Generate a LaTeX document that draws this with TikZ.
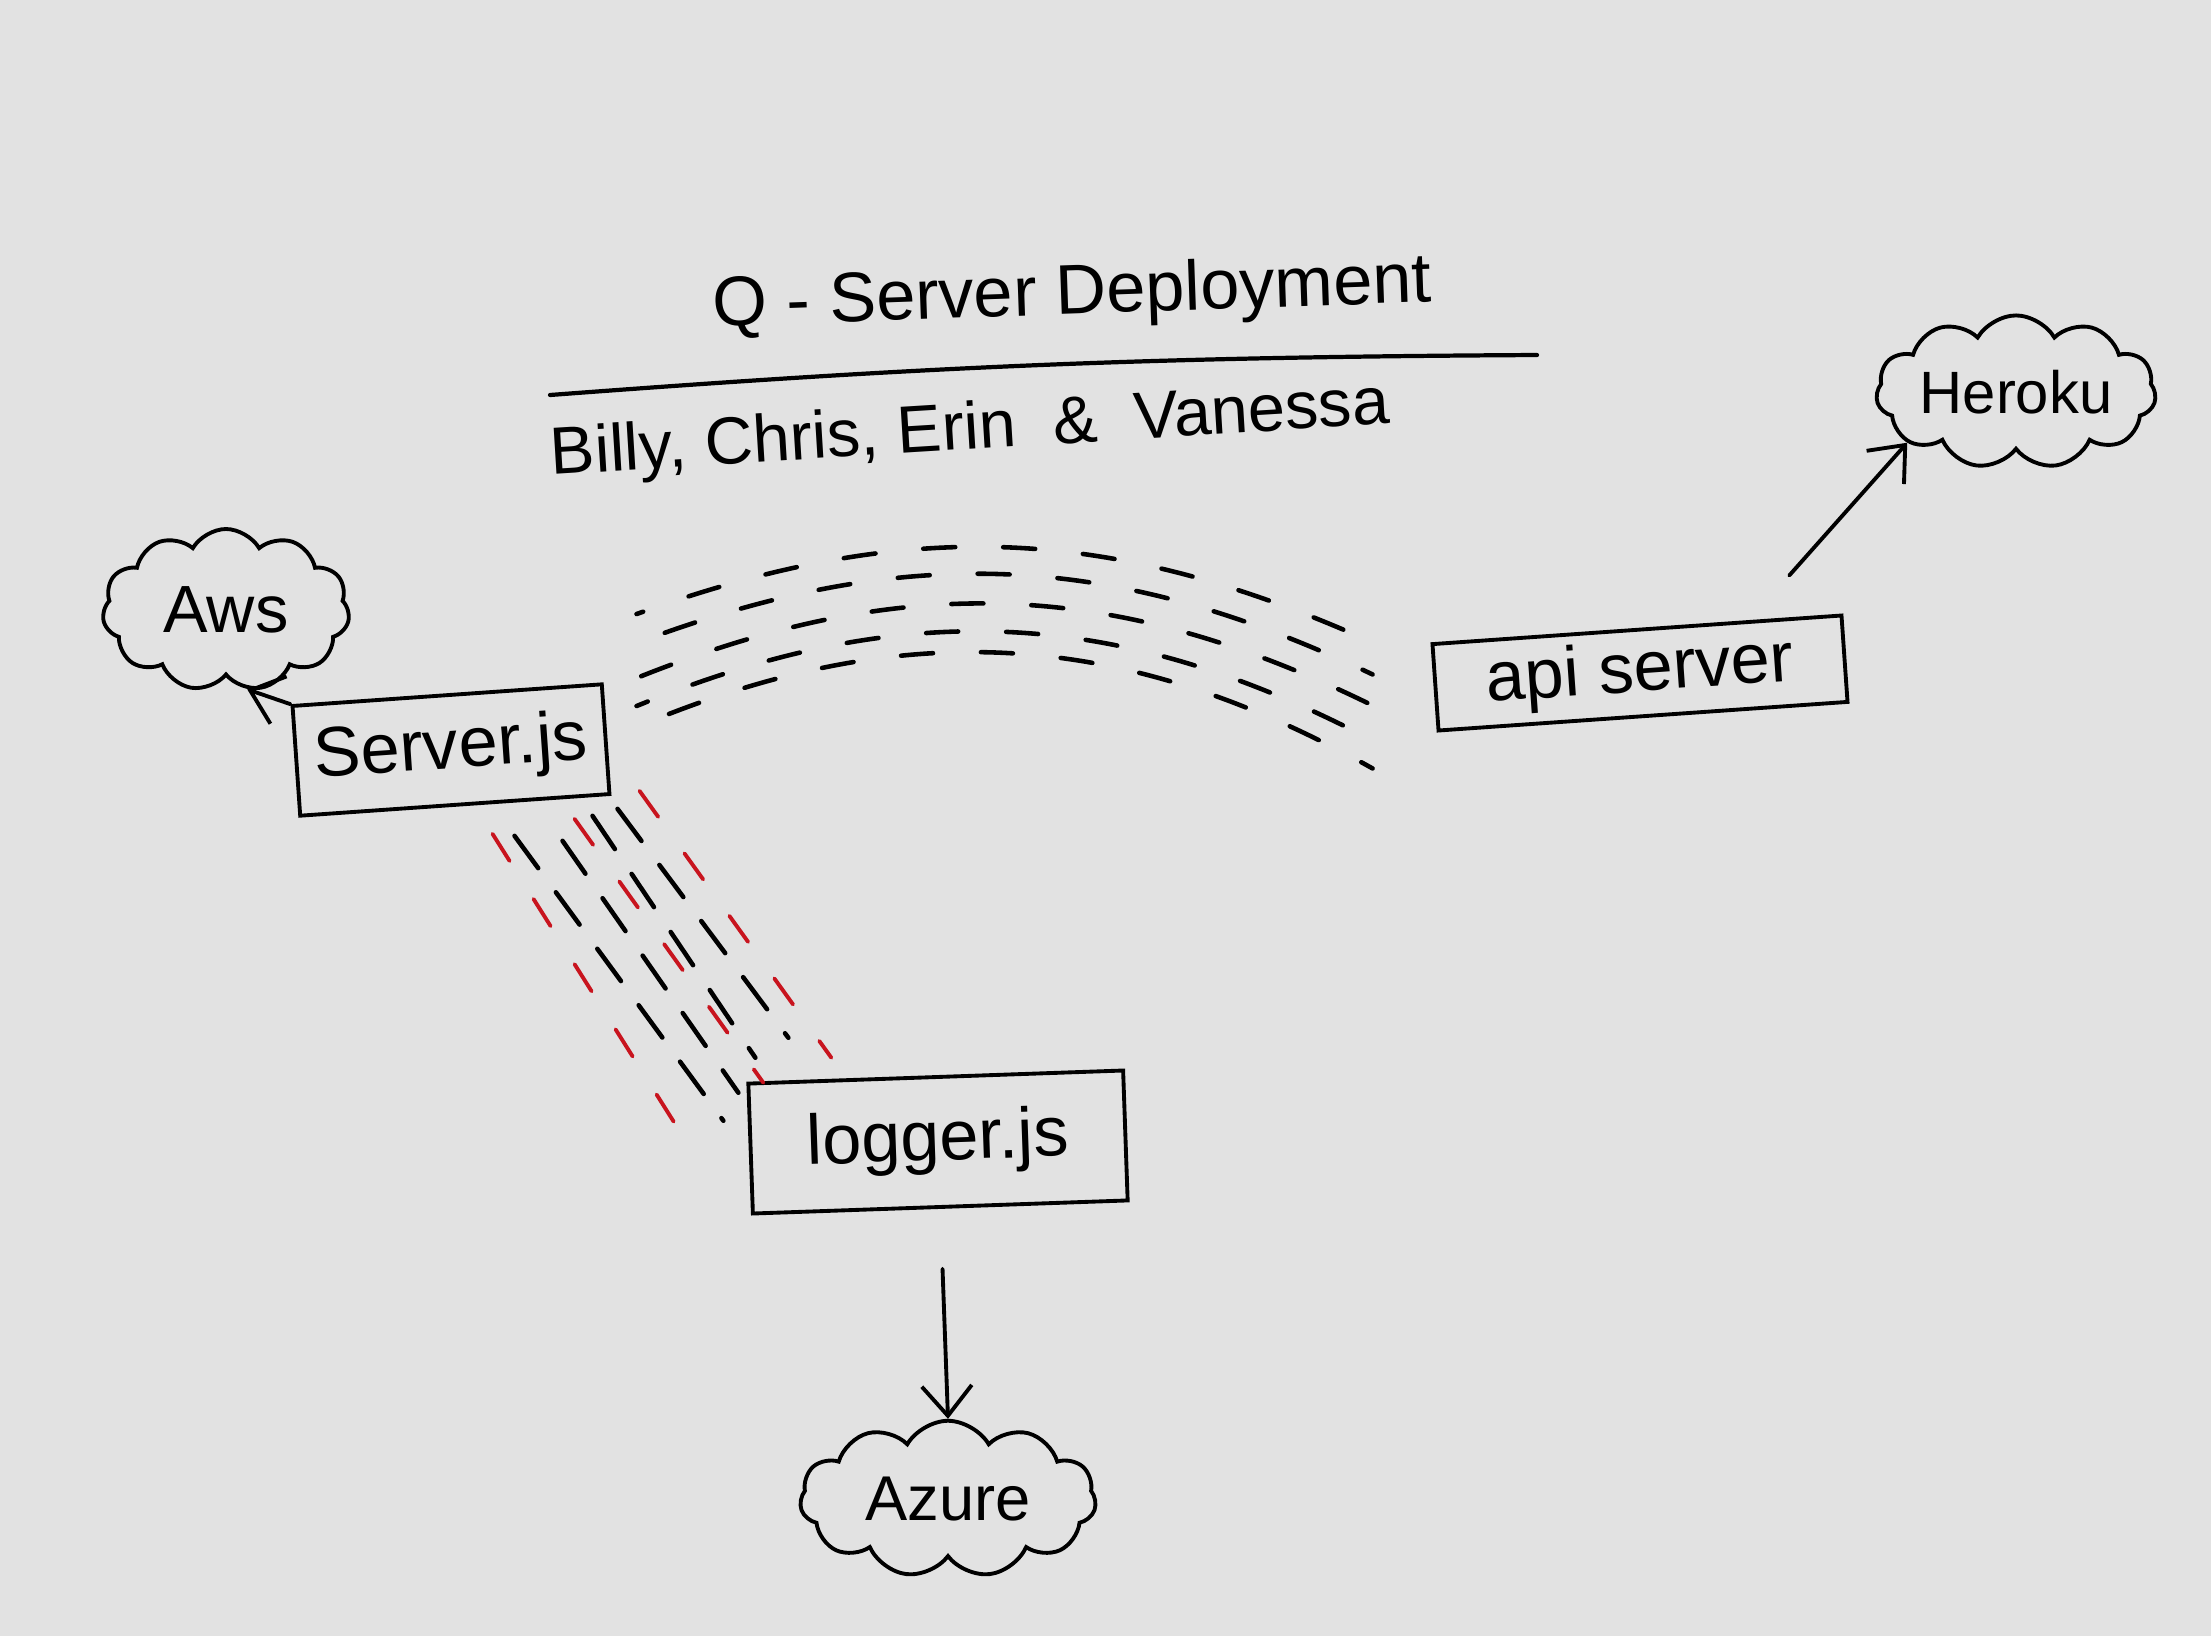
\documentclass[tikz,border=0pt]{standalone}
\usepackage{fontspec}
\setmainfont{Liberation Sans}
\usetikzlibrary{positioning,arrows.meta,shapes.symbols}
\definecolor{board}{HTML}{E2E2E2}
\definecolor{marker}{HTML}{C8141E}

\begin{document}
\begin{tikzpicture}[
    font=\fontsize{20}{24}\selectfont, line cap=round,
    >={Straight Barb[length=3mm, width=5mm]},
    filebox/.style={draw, line width=1.1pt, minimum width=31mm, minimum height=10mm, inner sep=3pt},
    cloudbox/.style={draw, cloud, cloud puffs=11, cloud puff arc=120, aspect=1.6,
                     line width=1.1pt, inner sep=2pt},
    flow/.style={->, line width=1.1pt},
    sync/.style={line width=1.3pt, dash pattern=on 3.2mm off 4.8mm},
    logline/.style={line width=1.3pt, dash pattern=on 4mm off 3mm},
    redline/.style={draw=marker, line width=1.1pt, dash pattern=on 3.2mm off 4.5mm},
]
\useasboundingbox[fill=board] (0,0) rectangle (22.11,-16.36);

% heading
\node[rotate=2] (title) at (10.72,-2.96) {Q - Server Deployment};
\coordinate (ruleL) at (5.50,-3.95);
\coordinate (ruleR) at (15.37,-3.55);
\draw[line width=1.2pt] (ruleL) to[bend left=2] (ruleR);
\node[rotate=3.5, font=\fontsize{19}{23}\selectfont] (team) at (9.70,-4.32)
    {Billy, Chris, Erin \ \& \ Vanessa};

% services
\node[filebox, rotate=4, minimum height=11mm] (srv) at (4.51,-7.50) {Server.js};
\node[filebox, rotate=4, minimum width=41mm, minimum height=8.5mm] (api) at (16.40,-6.73) {api server};
\node[filebox, rotate=2, minimum width=37.5mm, minimum height=13mm] (log) at (9.38,-11.42) {logger.js};

% hosts
\node[cloudbox, minimum width=24.7mm, minimum height=16.2mm, font=\fontsize{19}{23}\selectfont] (aws) at (2.26,-6.10) {Aws};
\node[cloudbox, aspect=2.4, inner sep=0pt, minimum width=27mm, minimum height=11mm, font=\fontsize{17}{21}\selectfont] (heroku) at (20.16,-3.92) {Heroku};
\node[cloudbox, aspect=2, inner sep=1pt, minimum width=29.6mm, minimum height=15mm, font=\fontsize{18}{22}\selectfont] (azure) at (9.48,-14.99) {Azure};

\draw[flow] (srv.north west) -- (aws.-75);
\draw[flow] ([shift={(-0.54,0.38)}]api.north east) -- (heroku.205);
\draw[flow, shorten <=6mm] (log.south) -- (azure.north);

% Server.js <-> api server
\foreach \sy/\ey/\b [count=\i] in {1.25/0.45/22, 0.96/0.13/23, 0.61/-0.18/24, 0.33/-0.53/25, 0.12/-0.81/26}
    \draw[sync, dash phase=\i*2.5mm] ([shift={(0.29,\sy)}]srv.east) to[bend left=\b] ([shift={(-0.61,\ey)}]api.west);

% Server.js <-> logger.js
\foreach \sx/\sy/\ex/\ey/\st in {-1.19/-0.38/-0.55/-0.68/redline, -0.97/-0.40/-0.23/-0.39/logline,
        -0.49/-0.45/-0.08/-0.11/logline, -0.37/-0.23/0.17/-0.01/redline, -0.19/-0.20/0.09/0.24/logline,
        0.06/-0.13/0.42/0.44/logline, 0.28/0.05/0.85/0.24/redline}
    \draw[\st] ([shift={(\sx,\sy)}]srv.south east) -- ([shift={(\ex,\ey)}]log.north west);
\end{tikzpicture}
\end{document}
